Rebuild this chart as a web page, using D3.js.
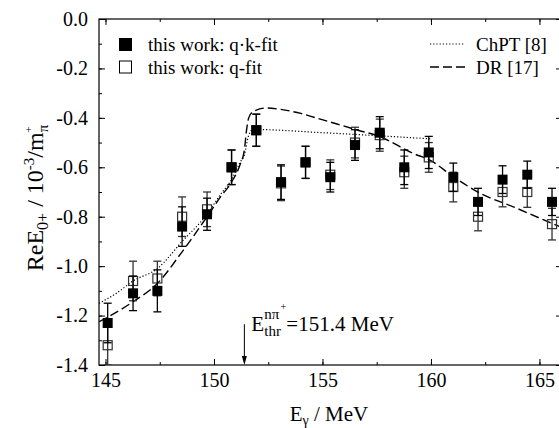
<!DOCTYPE html>
<html>
<head>
<meta charset="utf-8">
<script src="https://cdn.jsdelivr.net/npm/d3@7"></script>
<style>
  body { margin: 0; background: #fff; }
  svg text { font-family: "Liberation Serif", "DejaVu Serif", serif; }
</style>
</head>
<body>
<svg width="559" height="428"></svg>
<script>
// photon energy of each bin, MeV
const energy = [145.1, 146.27, 147.39, 148.53, 149.68, 150.81, 151.95, 153.09, 154.22, 155.36,
  156.5, 157.64, 158.77, 159.9, 161.03, 162.17, 163.3, 164.44, 165.58];
// this work: q·k-fit (filled)
const qkFit = [-1.23, -1.11, -1.10, -0.84, -0.79, -0.60, -0.45, -0.66, -0.58, -0.64,
  -0.51, -0.46, -0.60, -0.54, -0.64, -0.74, -0.65, -0.63, -0.74];
const qkErr = [0.08, 0.07, 0.085, 0.08, 0.065, 0.07, 0.065, 0.07, 0.065, 0.06,
  0.062, 0.065, 0.07, 0.065, 0.057, 0.055, 0.056, 0.055, 0.055];
// this work: q-fit (open)
const qFit = [-1.32, -1.06, -1.05, -0.80, -0.77, -0.60, -0.45, -0.665, -0.58, -0.63,
  -0.50, -0.47, -0.62, -0.56, -0.68, -0.80, -0.70, -0.70, -0.83];
const qErr = [0.08, 0.08, 0.07, 0.08, 0.07, 0.07, 0.065, 0.07, 0.065, 0.06,
  0.062, 0.065, 0.065, 0.06, 0.06, 0.057, 0.06, 0.062, 0.064];

// ChPT [8] curve
const chptE = [144.7, 145.5, 146.27, 147.39, 148.53, 149.68, 150.3, 150.81, 151.2, 151.4, 151.6, 151.8, 155, 160];
const chptV = [-1.15, -1.11, -1.06, -1.01, -0.90, -0.79, -0.71, -0.65, -0.58, -0.55, -0.47, -0.447, -0.46, -0.485];
// DR [17] curve
const drE = [144.7, 145.13, 146.27, 147.39, 148.53, 149.68, 150.3, 150.81, 151.2, 151.4, 151.5, 151.6, 151.8,
  152.4, 153.0, 154.0, 154.7, 156.6, 157.65, 159.18, 159.95, 161.03, 162.26, 163.8, 165.2, 166.5];
const drV = [-1.225, -1.205, -1.144, -1.07, -0.942, -0.80, -0.72, -0.66, -0.59, -0.53, -0.45, -0.40, -0.375,
  -0.36, -0.365, -0.382, -0.40, -0.449, -0.476, -0.544, -0.571, -0.638, -0.705, -0.76, -0.813, -0.86];

const threshold = 151.4;
const xTicks = [145, 150, 155, 160, 165];
const yTicks = [0, -0.2, -0.4, -0.6, -0.8, -1.0, -1.2, -1.4];

const serif = "'Liberation Serif', 'DejaVu Serif', serif";
const svg = d3.select("svg");

const x = d3.scaleLinear().domain([144.7, 166.04]).range([99, 562]);
const y = d3.scaleLinear().domain([-1.4, 0]).range([365, 19]);

// minor ticks (inward, no labels)
const minorX = d3.range(145, 166.1, 2.5);
const minorY = d3.range(-1.4, 0.01, 0.1);

svg.append("g")
  .attr("transform", "translate(0,365)")
  .call(d3.axisBottom(x).tickValues(minorX).tickSize(-3).tickFormat(""));
svg.append("g")
  .attr("transform", "translate(0,19)")
  .call(d3.axisTop(x).tickValues(minorX).tickSize(-3).tickFormat(""));
svg.append("g")
  .attr("transform", "translate(99,0)")
  .call(d3.axisLeft(y).tickValues(minorY).tickSize(-3).tickFormat(""));
svg.append("g")
  .attr("transform", "translate(562,0)")
  .call(d3.axisRight(y).tickValues(minorY).tickSize(-3).tickFormat(""));

// major ticks
svg.append("g")
  .attr("transform", "translate(0,365)")
  .call(d3.axisBottom(x).tickValues(xTicks).tickSize(-6).tickPadding(8).tickFormat(d3.format("d")));
svg.append("g")
  .attr("transform", "translate(99,0)")
  .call(d3.axisLeft(y).tickValues(yTicks).tickSize(-6).tickPadding(11).tickFormat(d => d.toFixed(1)));
svg.append("g")
  .attr("transform", "translate(0,19)")
  .call(d3.axisTop(x).tickValues(xTicks).tickSize(-6).tickFormat(""));
svg.append("g")
  .attr("transform", "translate(562,0)")
  .call(d3.axisRight(y).tickValues(yTicks).tickSize(-6).tickFormat(""));

svg.selectAll(".domain").remove();
svg.selectAll(".tick line").attr("stroke", "#000").attr("stroke-width", 1);
svg.selectAll(".tick text")
  .attr("font-size", 20)
  .attr("fill", "#000");

// frame
svg.append("rect")
  .attr("x", 99).attr("y", 19)
  .attr("width", 562 - 99).attr("height", 365 - 19)
  .attr("fill", "none").attr("stroke", "#000").attr("stroke-width", 1.2);

const plot = svg.append("g");
plot.append("clipPath").attr("id", "clip")
  .append("rect").attr("x", 99).attr("y", 19).attr("width", 463).attr("height", 346);

const line = d3.line()
  .x(d => x(d[0]))
  .y(d => y(d[1]))
  .curve(d3.curveMonotoneX);

// theory curves
plot.append("path")
  .datum(d3.zip(chptE, chptV))
  .attr("d", line)
  .attr("clip-path", "url(#clip)")
  .attr("fill", "none")
  .attr("stroke", "#000")
  .attr("stroke-width", 1.2)
  .attr("stroke-dasharray", "1.2,2");

plot.append("path")
  .datum(d3.zip(drE, drV))
  .attr("d", line)
  .attr("clip-path", "url(#clip)")
  .attr("fill", "none")
  .attr("stroke", "#000")
  .attr("stroke-width", 1.4)
  .attr("stroke-dasharray", "9,4");

// error bars + markers
const drawSeries = (vals, errs, filled, color) => {
  const pts = energy.map((e, i) => ({ e: e, v: vals[i], err: errs[i] }));
  const g = plot.append("g").attr("clip-path", "url(#clip)");
  const bars = g.selectAll("g.bar").data(pts).enter().append("g");
  bars.append("line")
    .attr("x1", d => x(d.e)).attr("x2", d => x(d.e))
    .attr("y1", d => y(d.v + d.err)).attr("y2", d => y(d.v - d.err))
    .attr("stroke", color).attr("stroke-width", 1.3);
  bars.append("line")
    .attr("x1", d => x(d.e) - 4).attr("x2", d => x(d.e) + 4)
    .attr("y1", d => y(d.v + d.err)).attr("y2", d => y(d.v + d.err))
    .attr("stroke", color).attr("stroke-width", 1.3);
  bars.append("line")
    .attr("x1", d => x(d.e) - 4).attr("x2", d => x(d.e) + 4)
    .attr("y1", d => y(d.v - d.err)).attr("y2", d => y(d.v - d.err))
    .attr("stroke", color).attr("stroke-width", 1.3);
  if (filled) {
    bars.append("rect")
      .attr("x", d => x(d.e) - 5).attr("y", d => y(d.v) - 5)
      .attr("width", 10).attr("height", 10)
      .attr("fill", "#000");
  } else {
    bars.append("rect")
      .attr("x", d => x(d.e) - 4.5).attr("y", d => y(d.v) - 4.5)
      .attr("width", 9).attr("height", 9)
      .attr("fill", "none").attr("stroke", color).attr("stroke-width", 1.2);
  }
};
drawSeries(qFit, qErr, false, "#333");
drawSeries(qkFit, qkErr, true, "#000");

// threshold arrow
const ax = x(threshold);
svg.append("line")
  .attr("x1", ax).attr("x2", ax)
  .attr("y1", y(-1.235)).attr("y2", y(-1.4) - 6)
  .attr("stroke", "#000").attr("stroke-width", 1);
svg.append("path")
  .attr("d", `M${ax - 2.5},${y(-1.4) - 9} L${ax},${y(-1.4)} L${ax + 2.5},${y(-1.4) - 9} Z`)
  .attr("fill", "#000");

const ann = svg.append("g").attr("font-size", 21).attr("fill", "#000");
ann.append("text").attr("x", ax + 7).attr("y", 331).text("E");
ann.append("text").attr("x", ax + 20).attr("y", 336).attr("font-size", 15).text("thr");
ann.append("text").attr("x", ax + 20).attr("y", 319).attr("font-size", 15).text("nπ");
ann.append("text").attr("x", ax + 36).attr("y", 310).attr("font-size", 11).text("+");
ann.append("text").attr("x", ax + 42).attr("y", 331).text("=151.4 MeV");

// legend, left
const leg = svg.append("g").attr("font-size", 19).attr("fill", "#000");
leg.append("rect").attr("x", 119).attr("y", 38).attr("width", 13).attr("height", 13).attr("fill", "#000");
leg.append("rect").attr("x", 119.5).attr("y", 61).attr("width", 12).attr("height", 12)
  .attr("fill", "none").attr("stroke", "#000").attr("stroke-width", 1);
leg.append("text").attr("x", 148).attr("y", 51).text("this work: q·k-fit");
leg.append("text").attr("x", 148).attr("y", 74).text("this work: q-fit");

// legend, right
leg.append("line").attr("x1", 430).attr("x2", 465).attr("y1", 44).attr("y2", 44)
  .attr("stroke", "#000").attr("stroke-width", 1.2).attr("stroke-dasharray", "1.2,2");
leg.append("line").attr("x1", 430).attr("x2", 465).attr("y1", 67).attr("y2", 67)
  .attr("stroke", "#000").attr("stroke-width", 1.4).attr("stroke-dasharray", "9,4");
leg.append("text").attr("x", 476).attr("y", 51).text("ChPT [8]");
leg.append("text").attr("x", 476).attr("y", 74).text("DR [17]");

// axis titles
svg.append("text")
  .attr("x", 329).attr("y", 421)
  .attr("text-anchor", "middle")
  .attr("font-size", 21)
  .html('E<tspan font-size="14" dy="4">γ</tspan><tspan dy="-4"> / MeV</tspan>');

svg.append("text")
  .attr("transform", "translate(43,198) rotate(-90)")
  .attr("text-anchor", "middle")
  .attr("font-size", 24)
  .html('ReE<tspan font-size="16" dy="5">0+</tspan><tspan dy="-5">  /  10</tspan>' +
    '<tspan font-size="15" dy="-9">-3</tspan><tspan dy="9">/m</tspan>' +
    '<tspan font-size="15" dy="5">π</tspan><tspan font-size="11" dx="-8" dy="-16">+</tspan>');

svg.selectAll("text").attr("font-family", serif);
</script>
</body>
</html>
